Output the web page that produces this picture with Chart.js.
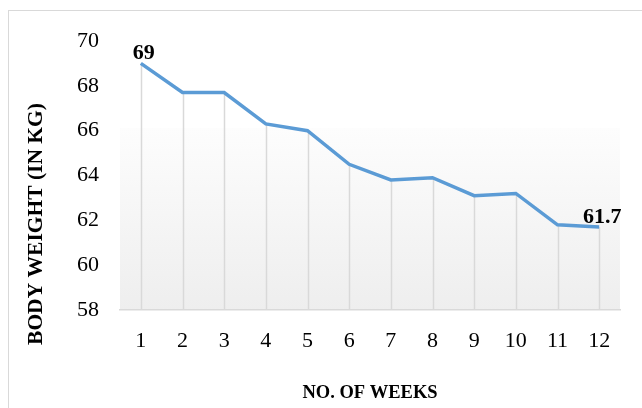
<!DOCTYPE html>
<html>
<head>
<meta charset="utf-8">
<script src="https://cdn.jsdelivr.net/npm/chart.js@4.4.1/dist/chart.umd.min.js"></script>
<style>
  html, body { margin: 0; padding: 0; background: #fff; overflow: hidden; }
  #wrap { position: relative; width: 642px; height: 408px; }
</style>
</head>
<body>
<div id="wrap"><canvas id="weightChart" width="642" height="408"></canvas></div>
<script>
const weeks = ['1', '2', '3', '4', '5', '6', '7', '8', '9', '10', '11', '12'];
const bodyWeight = [69, 67.7, 67.7, 66.3, 66.0, 64.5, 63.8, 63.9, 63.1, 63.2, 61.8, 61.7];
const labelledPoints = [0, 11];
const yTitle = 'BODY WEIGHT (IN KG)';
const xTitle = 'NO. OF WEEKS';

const serif = '"Liberation Serif", "Times New Roman", serif';

// frame, plot-area gradient and drop lines
const decor = {
    id: 'decor',
    beforeDraw(chart) {
        const { ctx, chartArea: a } = chart;
        ctx.save();
        ctx.fillStyle = '#fff';
        ctx.fillRect(0, 0, chart.width, chart.height);
        ctx.strokeStyle = '#d9d9d9';
        ctx.lineWidth = 1;
        ctx.strokeRect(8.5, 10.5, 700, 500);
        const top = a.top + 87;
        const g = ctx.createLinearGradient(0, top, 0, a.bottom);
        g.addColorStop(0, '#fdfdfd');
        g.addColorStop(1, '#eeeeee');
        ctx.fillStyle = g;
        ctx.fillRect(a.left, top, a.right - a.left, a.bottom - top);
        ctx.restore();
    },
    beforeDatasetsDraw(chart) {
        const { ctx, chartArea: a } = chart;
        const meta = chart.getDatasetMeta(0);
        ctx.save();
        ctx.strokeStyle = '#d9d9d9';
        ctx.lineWidth = 1.5;
        meta.data.forEach(pt => {
            ctx.beginPath();
            ctx.moveTo(Math.round(pt.x) + 0.5, pt.y);
            ctx.lineTo(Math.round(pt.x) + 0.5, a.bottom);
            ctx.stroke();
        });
        ctx.restore();
    },
    afterDatasetsDraw(chart) {
        const { ctx } = chart;
        const meta = chart.getDatasetMeta(0);
        ctx.save();
        ctx.fillStyle = '#000';
        ctx.font = 'bold 22px ' + serif;
        ctx.textAlign = 'center';
        ctx.textBaseline = 'alphabetic';
        labelledPoints.forEach(i => {
            const pt = meta.data[i];
            ctx.fillText(String(bodyWeight[i]), pt.x + 3, pt.y - 4);
        });
        // y axis title
        ctx.font = 'bold 21.5px ' + serif;
        ctx.textBaseline = 'middle';
        ctx.translate(36, 224);
        ctx.rotate(-Math.PI / 2);
        ctx.fillText(yTitle, 0, 0);
        ctx.restore();
    }
};

new Chart(document.getElementById('weightChart'), {
    type: 'line',
    data: {
        labels: weeks,
        datasets: [{
            data: bodyWeight,
            borderColor: '#5b9bd5',
            borderWidth: 3.5,
            pointRadius: 0,
            tension: 0,
            fill: false
        }]
    },
    options: {
        responsive: false,
        animation: false,
        layout: { padding: { left: 0, right: 22, top: 41, bottom: 0 } },
        plugins: { legend: { display: false }, tooltip: { enabled: false } },
        scales: {
            x: {
                offset: true,
                grid: { display: false, drawTicks: false },
                border: { display: true, color: '#d9d9d9', width: 1.5 },
                ticks: { color: '#000', font: { family: serif, size: 22 }, padding: 18, maxRotation: 0 },
                title: { display: true, text: xTitle, color: '#000', font: { family: serif, size: 18.5, weight: 'bold' }, padding: { top: 31 } },
                afterFit(scale) { scale.height = 98; }
            },
            y: {
                min: 58,
                max: 70,
                grid: { display: false, drawTicks: false },
                border: { display: false },
                ticks: { stepSize: 2, color: '#000', font: { family: serif, size: 22 }, padding: 21 },
                afterFit(scale) { scale.width = 120; }
            }
        }
    },
    plugins: [decor]
});
</script>
</body>
</html>
